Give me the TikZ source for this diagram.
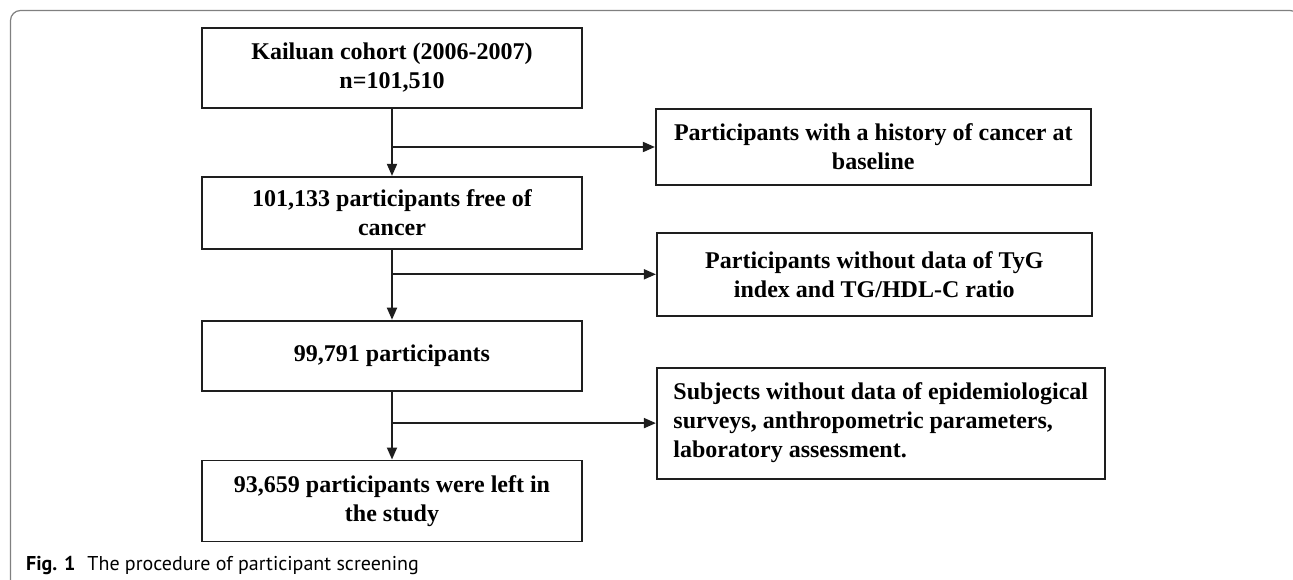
\documentclass[tikz,border=0pt]{standalone}
\usepackage{fontspec}
\setmainfont{Liberation Serif}
\newfontfamily\capfont{PT Sans}
\usepackage{tikz}
\usetikzlibrary{positioning}
\usetikzlibrary{arrows.meta}
\usepackage{xcolor}
\definecolor{framegray}{HTML}{808080}
\definecolor{boxline}{HTML}{1E1E1E}

\begin{document}
\begin{tikzpicture}[x=1pt,y=1pt,
		mainbox/.style={rectangle, draw=boxline, line width=1.8pt, minimum width=380pt, inner ysep=0pt, align=center, font=\bfseries\fontsize{24}{29}\selectfont},
		sidebox/.style={rectangle, draw=boxline, line width=1.8pt, inner ysep=0pt, align=center, font=\bfseries\fontsize{24}{29}\selectfont},
		flowarrow/.style={-{Triangle[length=12pt,width=10pt]}, draw=boxline, line width=1.8pt},
		]
		\clip (0,0) rectangle (1293,-580);
		% Frame
		\draw[framegray, line width=1.2pt, rounded corners=10pt] (10.5,-600) -- (10.5,-10.5) -- (1300,-10.5) -- (1300,-600);
		
		%Nodes
		\node[mainbox, minimum height=80pt]   (cohort)                       at (392,-68)  {Kailuan cohort (2006-2007)\\n=101,510};
		\node[mainbox, minimum height=72pt]   (free)      [below=67pt of cohort]           {101,133 participants free of\\cancer};
		\node[mainbox, minimum height=70pt]   (remain)    [below=70pt of free]             {99,791 participants};
		\node[mainbox, minimum height=81pt]   (final)     [below=68pt of remain]           {93,659 participants were left in\\the study};
		\node[sidebox, minimum width=435pt, minimum height=76pt]  (history)  [right=72pt of cohort, yshift=-79pt]   {Participants with a history of cancer at\\baseline};
		\node[sidebox, minimum width=435pt, minimum height=83pt]  (nodata)   [right=73pt of free, yshift=-61.5pt]   {Participants without data of TyG\\index and TG/HDL-C ratio};
		\node[sidebox, minimum width=448pt, minimum height=111pt, inner xsep=13pt, align=left] (subjects) [right=73pt of remain, yshift=-67.5pt] {Subjects without data of epidemiological\\surveys, anthropometric parameters,\\laboratory assessment.};
		
		% Caption
		\node[anchor=base west, inner sep=0pt, font=\capfont\fontsize{20}{24}\selectfont] (caption) at (26,-570) {\textbf{Fig. 1}\hspace{12pt}The procedure of participant screening};
		
		%Lines
		\draw[flowarrow] (cohort) -- (free);
		\draw[flowarrow] (free) -- (remain);
		\draw[flowarrow] (remain) -- (final);
		\draw[flowarrow] (history.west -| cohort.south) -- (history.west);
		\draw[flowarrow] (nodata.west -| free.south) -- (nodata.west);
		\draw[flowarrow] (subjects.west -| remain.south) -- (subjects.west);
		
	\end{tikzpicture}
\end{document}
